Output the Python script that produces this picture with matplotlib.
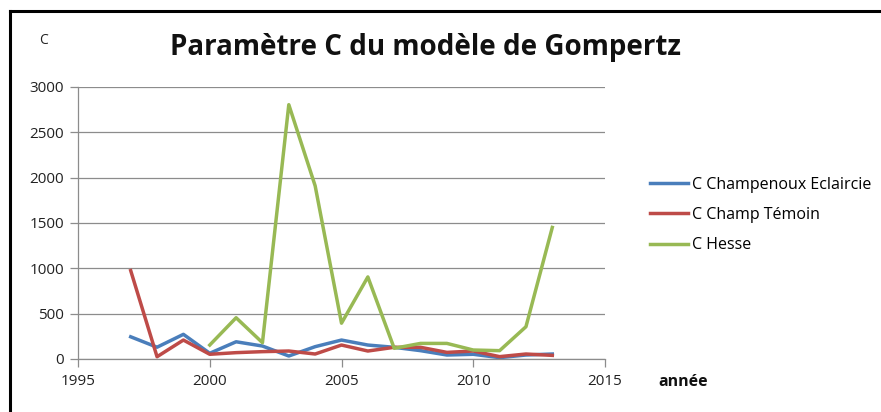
import matplotlib
matplotlib.use('Agg')
import matplotlib.pyplot as plt
from matplotlib.lines import Line2D

plt.rcParams['font.family'] = ['Open Sans', 'DejaVu Sans']

# données
annees = [1997, 1998, 1999, 2000, 2001, 2002, 2003, 2004, 2005, 2006,
          2007, 2008, 2009, 2010, 2011, 2012, 2013]
c_eclaircie = [245, 130, 272, 63, 190, 143, 33, 136, 209, 154,
               129, 92, 44, 52, 15, 44, 55]
c_temoin = [975, 25, 209, 52, 70, 81, 88, 55, 154, 88,
            129, 129, 73, 88, 26, 55, 40]
annees_hesse = [2000, 2001, 2002, 2003, 2004, 2005, 2006, 2007, 2008,
                2009, 2010, 2011, 2012, 2013]
c_hesse = [154, 455, 180, 2805, 1910, 395, 905, 118, 172, 172, 99, 92, 356, 1451]

noms = ['C Champenoux Eclaircie', 'C Champ Témoin', 'C Hesse']
couleurs = ['#4a7ebb', '#be4b48', '#98b954']

fig = plt.figure(figsize=(8.81, 4.12), dpi=100)
ax = fig.add_axes([78 / 881, 1 - 359 / 412, (605 - 78) / 881, (359 - 87) / 412])

ax.plot(annees, c_eclaircie, color=couleurs[0], lw=2.5, solid_joinstyle='round')
ax.plot(annees, c_temoin, color=couleurs[1], lw=2.5, solid_joinstyle='round')
ax.plot(annees_hesse, c_hesse, color=couleurs[2], lw=2.5, solid_joinstyle='round')

ax.set_xlim(1995, 2015)
ax.set_ylim(0, 3000)
ax.set_xticks(range(1995, 2016, 5))
ax.set_yticks(range(0, 3001, 500))
ax.grid(axis='y', color='#8c8c8c', lw=0.9)
ax.set_axisbelow(True)
for s in ['top', 'right']:
    ax.spines[s].set_visible(False)
for s in ['left', 'bottom']:
    ax.spines[s].set_color('#8c8c8c')
    ax.spines[s].set_linewidth(0.9)
ax.tick_params(axis='both', colors='#8c8c8c', labelcolor='#222222',
               labelsize=11, length=6, width=0.9)
ax.tick_params(axis='x', pad=5)
ax.tick_params(axis='y', pad=4)

fig.text(425 / 881, 1 - 47 / 412, 'Paramètre C du modèle de Gompertz',
         ha='center', va='center', fontsize=20, fontweight='bold', color='#111111')
fig.text(44 / 881, 1 - 40 / 412, 'C', ha='center', va='center',
         fontsize=10, color='#222222')
fig.text(658 / 881, 1 - 382 / 412, 'année', ha='left', va='center',
         fontsize=11.5, fontweight='bold', color='#111111')

handles = [Line2D([0], [0], color=c, lw=2.5) for c in couleurs]
fig.legend(handles, noms, loc='upper left', bbox_to_anchor=(650 / 881, 1 - 177 / 412),
           frameon=False, fontsize=11.5, handlelength=2.4, handletextpad=0.2,
           labelspacing=0.88, borderaxespad=0, borderpad=0)

# cadre noir du graphique
fig.add_artist(Line2D([10 / 881, 10 / 881], [0, 1 - 11 / 412], color='black', lw=2.2,
                      transform=fig.transFigure))
fig.add_artist(Line2D([10 / 881, 1], [1 - 11 / 412, 1 - 11 / 412], color='black', lw=2.2,
                      transform=fig.transFigure))

fig.savefig('out.png', dpi=100)
